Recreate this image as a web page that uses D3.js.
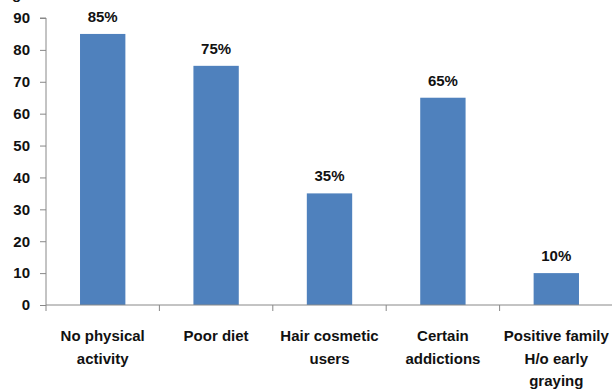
<!DOCTYPE html>
<html><head><meta charset="utf-8">
<script src="https://cdn.jsdelivr.net/npm/d3@7"></script>
<style>
html,body{margin:0;padding:0;background:#fff;}
svg{display:block;}
text{font-family:"Liberation Sans Narrow","Liberation Sans",Arial,sans-serif;font-weight:bold;fill:#111;}
</style></head>
<body>
<svg id="chart" width="612" height="390"></svg>
<script>
const categories = [["No physical","activity"],["Poor diet"],["Hair cosmetic","users"],["Certain","addictions"],["Positive family","H/o early","graying"]];
const values = [85, 75, 35, 65, 10];
const valueLabels = ["85%","75%","35%","65%","10%"];
const yTicks = [0,10,20,30,40,50,60,70,80,90];

const svg = d3.select("#chart");
const mLeft = 46, mRight = 613, mTop = 18, mBottom = 305;
const x = d3.scaleBand().domain(d3.range(values.length)).range([mLeft, mRight]).paddingInner(0.6).paddingOuter(0.3);
const xb = d3.scaleBand().domain(d3.range(values.length)).range([mLeft, mRight]);
const y = d3.scaleLinear().domain([0, 90]).range([mBottom, mTop]);
const axisColor = "#888";

// clipped title remnant
svg.append("text").attr("x", 12).attr("y", -1).attr("font-size", 15).text("g");

// y axis
const yAxis = svg.append("g").attr("transform", `translate(${mLeft},0)`)
  .call(d3.axisLeft(y).tickValues(yTicks).tickSize(6).tickPadding(10).tickFormat(d3.format("d")));
yAxis.select(".domain").attr("stroke", axisColor).attr("d", `M-6,${mTop}H0V${mBottom}`);
yAxis.selectAll(".tick line").attr("stroke", axisColor);
yAxis.selectAll(".tick text").attr("font-size", 15).attr("fill", "#111")
  .style("font-family", '"Liberation Sans Narrow","Liberation Sans",Arial,sans-serif').style("font-weight","bold");

// bars
svg.selectAll("rect.bar").data(values).enter().append("rect").attr("class","bar")
  .attr("x", (d,i) => x(i)).attr("width", x.bandwidth())
  .attr("y", d => y(d)).attr("height", d => mBottom - y(d))
  .attr("fill", "#4f81bd");

// x axis line and ticks
svg.append("line").attr("x1", mLeft).attr("x2", mRight).attr("y1", mBottom).attr("y2", mBottom).attr("stroke", axisColor);
svg.selectAll("line.xt").data(d3.range(values.length)).enter().append("line").attr("class","xt")
  .attr("x1", i => xb(i)).attr("x2", i => xb(i)).attr("y1", mBottom).attr("y2", mBottom + 6).attr("stroke", axisColor);

// value labels
svg.selectAll("text.val").data(values).enter().append("text").attr("class","val")
  .attr("x", (d,i) => x(i) + x.bandwidth()/2).attr("y", d => y(d) - 12)
  .attr("text-anchor","middle").attr("font-size", 15).text((d,i) => valueLabels[i]);

// category labels
categories.forEach((lines, i) => {
  const t = svg.append("text").attr("text-anchor","middle").attr("font-size", 15)
    .attr("x", xb(i) + xb.bandwidth()/2).attr("y", 341);
  lines.forEach((l, j) => t.append("tspan").attr("x", xb(i) + xb.bandwidth()/2).attr("dy", j ? 22.5 : 0).text(l));
});
</script>
</body></html>
